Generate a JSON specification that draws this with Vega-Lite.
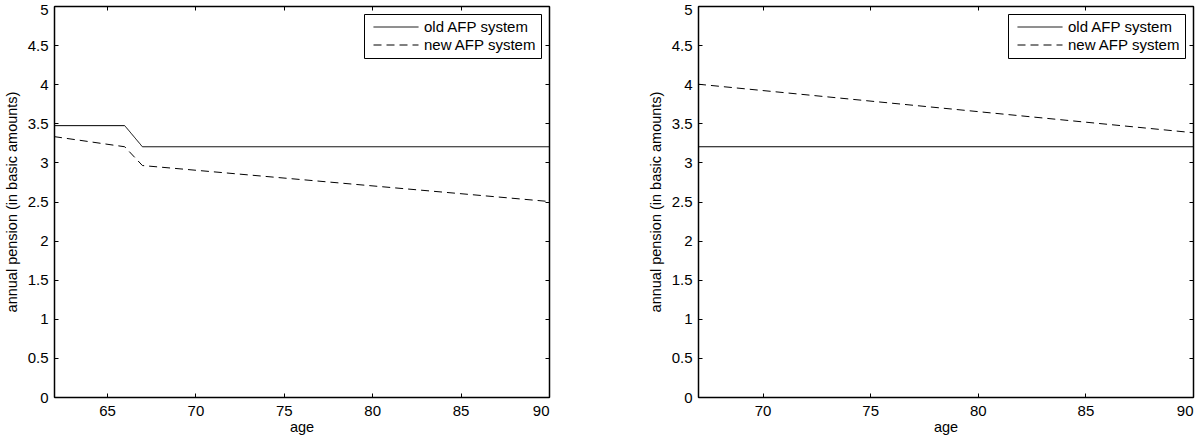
{
  "$schema": "https://vega.github.io/schema/vega-lite/v6.json",
  "background": "white",
  "padding": {"left": 3, "top": 1, "right": 6, "bottom": 4},
  "config": {
    "font": "Liberation Sans",
    "view": {"stroke": "black", "strokeWidth": 1},
    "axis": {
      "domain": true, "domainColor": "black", "domainWidth": 1.5, "grid": false,
      "tickColor": "black", "tickSize": -4, "tickWidth": 1,
      "labelFont": "Liberation Sans", "labelFontSize": 15, "labelColor": "black",
      "titleFont": "Liberation Sans", "titleFontSize": 14.5, "titleFontWeight": "normal", "titleColor": "black"
    },
    "legend": {
      "orient": "top-right", "offset": 8, "title": null,
      "strokeColor": "black", "strokeWidth": 1, "fillColor": "white", "padding": 4,
      "labelFont": "Liberation Sans", "labelFontSize": 15, "labelColor": "black",
      "symbolType": "stroke", "symbolSize": 2025, "symbolStrokeWidth": 1, "symbolStrokeColor": "black",
      "symbolOffset": 5, "labelOffset": 5, "clipHeight": 18, "rowPadding": 0
    }
  },
  "spacing": 95,
  "resolve": {"scale": {"strokeDash": "independent"}, "legend": {"strokeDash": "independent"}},
  "hconcat": [
    {
      "width": 495, "height": 391,
      "data": {"values": [
        {"age": 62, "pension": 3.47, "system": "old AFP system"},
        {"age": 66, "pension": 3.47, "system": "old AFP system"},
        {"age": 67, "pension": 3.2, "system": "old AFP system"},
        {"age": 90, "pension": 3.2, "system": "old AFP system"},
        {"age": 62, "pension": 3.33, "system": "new AFP system"},
        {"age": 66, "pension": 3.2, "system": "new AFP system"},
        {"age": 67, "pension": 2.96, "system": "new AFP system"},
        {"age": 90, "pension": 2.5, "system": "new AFP system"}
      ]},
      "layer": [
        {
          "mark": {"type": "line", "color": "black", "strokeWidth": 1},
          "encoding": {
            "x": {"field": "age", "type": "quantitative", "scale": {"domain": [62, 90], "nice": false, "zero": false},
                  "axis": {"values": [65, 70, 75, 80, 85, 90], "title": "age", "labelPadding": 10, "titlePadding": 2}},
            "y": {"field": "pension", "type": "quantitative", "scale": {"domain": [0, 5], "nice": false},
                  "axis": {"values": [0, 0.5, 1, 1.5, 2, 2.5, 3, 3.5, 4, 4.5, 5], "format": "~g", "title": "annual pension (in basic amounts)", "labelPadding": 10, "titlePadding": 8,
                           "labelOffset": {"condition": {"test": "datum.value == 5", "value": 3}, "value": 0}}},
            "strokeDash": {"field": "system", "type": "nominal",
                  "scale": {"domain": ["old AFP system", "new AFP system"], "range": [[1, 0], [8, 5]]}}
          }
        },
        {
          "mark": {"type": "line", "opacity": 0},
          "encoding": {
            "x": {"field": "age", "type": "quantitative", "axis": {"orient": "top", "values": [65, 70, 75, 80, 85, 90], "labels": false, "title": null}},
            "y": {"field": "pension", "type": "quantitative", "axis": {"orient": "right", "values": [0, 0.5, 1, 1.5, 2, 2.5, 3, 3.5, 4, 4.5, 5], "labels": false, "title": null}}
          }
        }
      ],
      "resolve": {"axis": {"x": "independent", "y": "independent"}}
    },
    {
      "width": 495, "height": 391,
      "data": {"values": [
        {"age": 67, "pension": 3.2, "system": "old AFP system"},
        {"age": 90, "pension": 3.2, "system": "old AFP system"},
        {"age": 67, "pension": 4.0, "system": "new AFP system"},
        {"age": 90, "pension": 3.38, "system": "new AFP system"}
      ]},
      "layer": [
        {
          "mark": {"type": "line", "color": "black", "strokeWidth": 1},
          "encoding": {
            "x": {"field": "age", "type": "quantitative", "scale": {"domain": [67, 90], "nice": false, "zero": false},
                  "axis": {"values": [70, 75, 80, 85, 90], "title": "age", "labelPadding": 10, "titlePadding": 2}},
            "y": {"field": "pension", "type": "quantitative", "scale": {"domain": [0, 5], "nice": false},
                  "axis": {"values": [0, 0.5, 1, 1.5, 2, 2.5, 3, 3.5, 4, 4.5, 5], "format": "~g", "title": "annual pension (in basic amounts)", "labelPadding": 10, "titlePadding": 8,
                           "labelOffset": {"condition": {"test": "datum.value == 5", "value": 3}, "value": 0}}},
            "strokeDash": {"field": "system", "type": "nominal",
                  "scale": {"domain": ["old AFP system", "new AFP system"], "range": [[1, 0], [8, 5]]}}
          }
        },
        {
          "mark": {"type": "line", "opacity": 0},
          "encoding": {
            "x": {"field": "age", "type": "quantitative", "axis": {"orient": "top", "values": [70, 75, 80, 85, 90], "labels": false, "title": null}},
            "y": {"field": "pension", "type": "quantitative", "axis": {"orient": "right", "values": [0, 0.5, 1, 1.5, 2, 2.5, 3, 3.5, 4, 4.5, 5], "labels": false, "title": null}}
          }
        }
      ],
      "resolve": {"axis": {"x": "independent", "y": "independent"}}
    }
  ]
}
